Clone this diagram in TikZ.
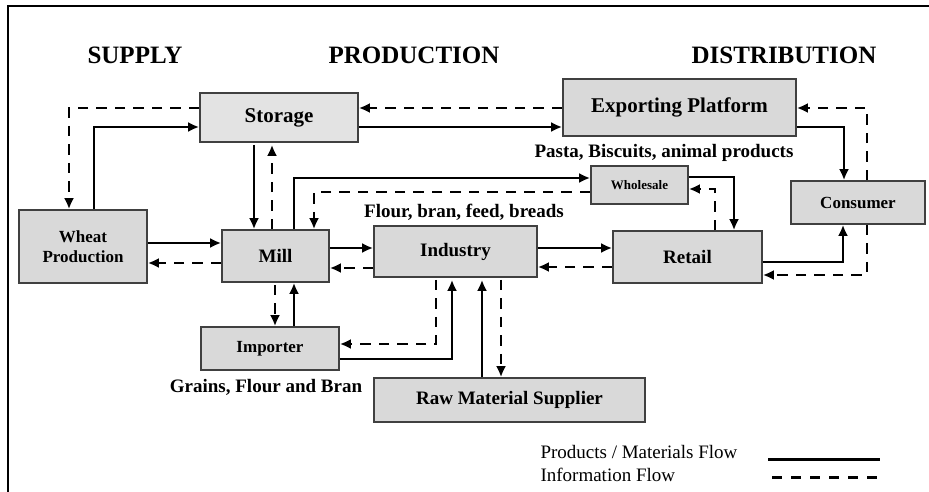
\documentclass[tikz,border=0pt]{standalone}
\usepackage{fontspec}
\setmainfont{Liberation Serif}
\usetikzlibrary{calc,arrows.meta}

\begin{document}
\begin{tikzpicture}[x=1pt,y=-1pt,
    box/.style={draw=black!75,line width=1.7pt,fill=black!15,inner sep=0pt,align=center,
      font=\bfseries\fontsize{19}{21}\selectfont},
    flow/.style={line width=2.7pt,-{Latex[length=11pt,width=10pt]}},
    info/.style={flow,dash pattern=on 10.5pt off 8pt},
    head/.style={font=\bfseries\fontsize{25}{27}\selectfont},
    tag/.style={font=\bfseries\fontsize{19}{21}\selectfont}]
    \useasboundingbox (0,0) rectangle (929,492);
    \draw[line width=2.5pt] (929,6) -- (8,6) -- (8,492);

    \node[head] (supply) at (135,55.5) {SUPPLY};
    \node[head] (production) at (414,55.5) {PRODUCTION};
    \node[head] (distribution) at (784,55.5) {DISTRIBUTION};

    \node[box,fill=black!11,minimum width=158,minimum height=49,font=\bfseries\fontsize{21}{23}\selectfont] (storage) at (279,117.5) {Storage};
    \node[box,minimum width=128,minimum height=73,font=\bfseries\fontsize{17}{20}\selectfont] (wheat) at (83,246.5) {Wheat\\Production};
    \node[box,minimum width=107,minimum height=52] (mill) at (275.5,256) {Mill};
    \node[box,minimum width=163,minimum height=51] (industry) at (455.5,251.5) {Industry};
    \node[box,minimum width=149,minimum height=52] (retail) at (687.5,257) {Retail};
    \node[box,minimum width=233,minimum height=57,font=\bfseries\fontsize{21}{23}\selectfont] (export) at (679.5,107.5) {Exporting Platform};
    \node[box,minimum width=97,minimum height=38,font=\bfseries\fontsize{13}{15}\selectfont] (wholesale) at (639.5,185) {Wholesale};
    \node[box,minimum width=134,minimum height=43,font=\bfseries\fontsize{17}{20}\selectfont] (consumer) at (858,202.5) {Consumer};
    \node[box,minimum width=138,minimum height=43,font=\bfseries\fontsize{17}{20}\selectfont] (importer) at (270,348.5) {Importer};
    \node[box,minimum width=271,minimum height=44] (raw) at (509.5,400) {Raw Material Supplier};

    \node[tag] (exportgoods) at (664,153) {Pasta, Biscuits, animal products};
    \node[tag] (millgoods) at (464,212) {Flour, bran, feed, breads};
    \node[tag] (importgoods) at (266,387) {Grains, Flour and Bran};

    \draw[flow] ($(wheat.north)+(11,0)$) |- ($(storage.west)+(0,9.5)$);
    \draw[info] ($(storage.west)+(0,-9.5)$) -| ($(wheat.north)+(-14,0)$);
    \draw[flow] ($(storage.south)+(-25,2)$) -- ($(mill.north)+(-21.5,0)$);
    \draw[info] ($(mill.north)+(-3.5,0)$) -- ($(storage.south)+(-7,2)$);
    \draw[flow] ($(mill.north)+(18.5,0)$) |- ($(wholesale.west)+(0,-7)$);
    \draw[info] ($(wholesale.west)+(0,7)$) -| ($(mill.north)+(38.5,0)$);
    \draw[flow] ($(wheat.east)+(0,-3.5)$) -- ($(mill.west)+(0,-13)$);
    \draw[info] ($(mill.west)+(0,7)$) -- ($(wheat.east)+(0,16.5)$);
    \draw[flow] ($(mill.east)+(0,-8)$) -- ($(industry.west)+(0,-3.5)$);
    \draw[info] ($(industry.west)+(0,16.5)$) -- ($(mill.east)+(0,12)$);
    \draw[flow] ($(industry.east)+(0,-3.5)$) -- ($(retail.west)+(0,-9)$);
    \draw[info] ($(retail.west)+(0,10)$) -- ($(industry.east)+(0,15.5)$);
    \draw[flow] ($(storage.east)+(0,9.5)$) -- ($(export.west)+(0,19.5)$);
    \draw[info] ($(export.west)+(0,0.5)$) -- ($(storage.east)+(0,-9.5)$);
    \draw[flow] ($(export.east)+(0,19.5)$) -| ($(consumer.north)+(-14,0)$);
    \draw[info] ($(consumer.north)+(9,0)$) |- ($(export.east)+(0,0.5)$);
    \draw[flow] ($(wholesale.east)+(0,-8)$) -| ($(retail.north)+(46.5,0)$);
    \draw[info] ($(retail.north)+(27.5,0)$) |- ($(wholesale.east)+(0,4)$);
    \draw[flow] ($(retail.east)+(0,5)$) -| ($(consumer.south)+(-15,0)$);
    \draw[info] ($(consumer.south)+(9,0)$) |- ($(retail.east)+(0,18)$);
    \draw[info] ($(mill.south)+(-0.5,2)$) -- ($(importer.north)+(5,0)$);
    \draw[flow] ($(importer.north)+(24,0)$) -- ($(mill.south)+(18.5,0)$);
    \draw[info] ($(industry.south)+(-19.5,2)$) |- ($(importer.east)+(0,-4.5)$);
    \draw[flow] ($(importer.east)+(0,10.5)$) -| ($(industry.south)+(-3.5,2)$);
    \draw[flow] ($(raw.north)+(-27.5,0)$) -- ($(industry.south)+(26.5,2)$);
    \draw[info] ($(industry.south)+(45.5,2)$) -- ($(raw.north)+(-8.5,0)$);

    \node[anchor=west,font=\fontsize{19}{21}\selectfont] (flowkey) at (537,452) {Products / Materials Flow};
    \node[anchor=west,font=\fontsize{19}{21}\selectfont] (infokey) at (537,475) {Information Flow};
    \coordinate (flowa) at (768,459);
    \coordinate (flowb) at (880,459);
    \coordinate (infoa) at (772,477);
    \coordinate (infob) at (880,477);
    \draw[line width=3pt] (flowa) -- (flowb);
    \draw[line width=3pt,dash pattern=on 10pt off 9pt] (infoa) -- (infob);
  \end{tikzpicture}
\end{document}
